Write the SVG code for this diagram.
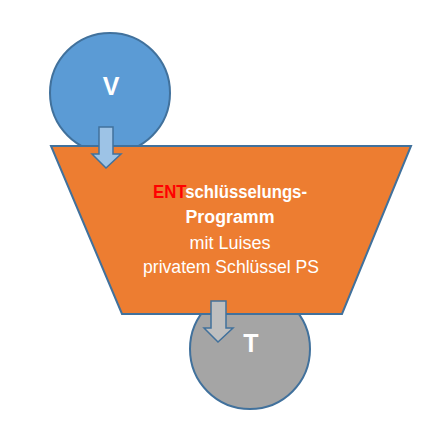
<svg xmlns="http://www.w3.org/2000/svg" width="442" height="438" viewBox="0 0 442 438">
<style>
.lbl{font-family:"Liberation Sans",Arial,sans-serif;font-size:18px;fill:#fff;text-anchor:middle}
.b{font-weight:bold}
.big{font-family:"Liberation Sans",Arial,sans-serif;font-size:25px;font-weight:bold;fill:#fff;text-anchor:middle}
.edge{stroke:#41719c;stroke-width:2}
</style>
<rect width="442" height="438" fill="#fff"/>
<g id="V">
<circle cx="110" cy="93" r="60" fill="#5b9bd5" class="edge"/>
<text x="111" y="95" class="big">V</text>
</g>
<g id="T">
<circle cx="250" cy="349" r="60" fill="#a5a5a5" class="edge"/>
<text x="251" y="352" class="big">T</text>
</g>
<g id="program">
<polygon points="51,146 411,146 342,314 122,314" fill="#ed7d31" class="edge"/>
<text class="lbl b" x="230" y="198" textLength="154" lengthAdjust="spacingAndGlyphs"><tspan fill="#ff0000">ENT</tspan>schlüsselungs-</text>
<text class="lbl b" x="230" y="223" textLength="89" lengthAdjust="spacingAndGlyphs">Programm</text>
<text class="lbl" x="230" y="249" textLength="81" lengthAdjust="spacingAndGlyphs">mit Luises</text>
<text class="lbl" x="231" y="273" textLength="176" lengthAdjust="spacingAndGlyphs">privatem Schlüssel PS</text>
</g>
<g id="connectors">
<polygon points="99,127 113,127 113,154 121,154 106,168 92,154 99,154" fill="#9dc3e6" stroke="#41719c" stroke-width="1.5"/>
<polygon points="211,301 226,301 226,328 233,328 218,342 204,328 211,328" fill="#bfbfbf" stroke="#41719c" stroke-width="1.5"/>
</g>
</svg>
